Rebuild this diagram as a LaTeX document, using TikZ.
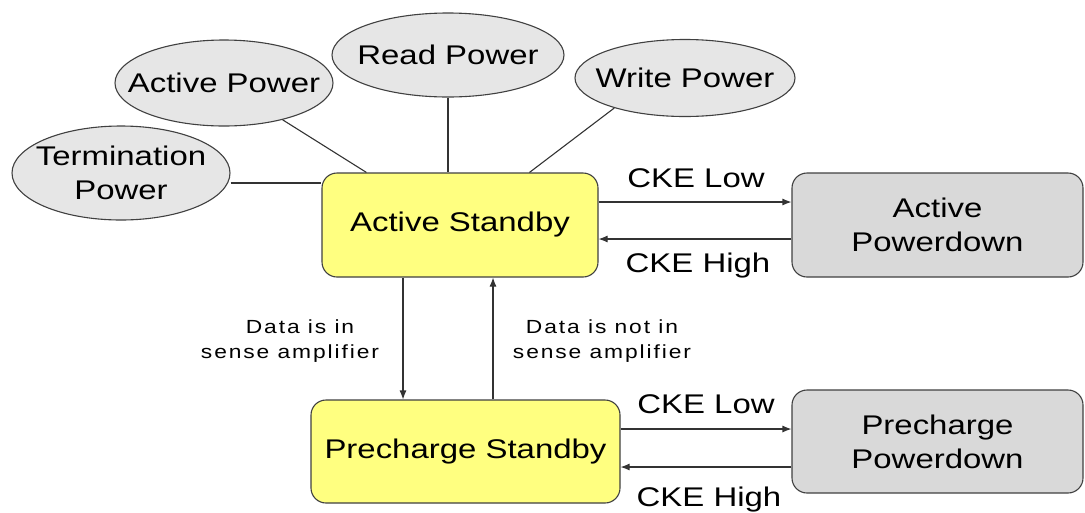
\documentclass[tikz,border=0pt]{standalone}
\usepackage{fontspec}
\setmainfont{Liberation Sans}[FakeStretch=1.22]
\newfontfamily\notefont{Liberation Sans}[FakeStretch=1.2, LetterSpace=10]
\usetikzlibrary{shapes.geometric,arrows.meta,calc}

\definecolor{outline}{HTML}{404040}
\definecolor{powerfill}{HTML}{E6E6E6}
\definecolor{standbyfill}{HTML}{FFFF80}
\definecolor{downfill}{HTML}{D9D9D9}

\tikzset{
  every node/.style={font=\fontsize{27}{34}\selectfont, align=center, inner sep=0pt},
  powerblob/.style={ellipse, draw=outline, line width=1.1pt, fill=powerfill},
  statebox/.style={rectangle, rounded corners=15pt, draw=outline, line width=1.1pt},
  standby/.style={statebox, fill=standbyfill},
  downstate/.style={statebox, fill=downfill},
  link/.style={draw=black!80, line width=1.1pt},
  trans/.style={link, -{Latex[length=9pt,width=7pt]}},
  note/.style={font=\notefont\fontsize{19}{25}\selectfont},
}

\begin{document}
\begin{tikzpicture}[x=1pt, y=-1pt]
  \useasboundingbox (0,0) rectangle (1085,512);

  % power contributions (ellipse outline sized independently of its caption)
  \node[powerblob, minimum width=218, minimum height=94,
        label={center:Termination\\Power}] (term) at (121,173) {};
  \node[powerblob, minimum width=218, minimum height=86,
        label={center:Active Power}] (actp) at (224,83) {};
  \node[powerblob, minimum width=232, minimum height=84,
        label={center:Read Power}] (readp) at (448,55) {};
  \node[powerblob, minimum width=220, minimum height=77,
        label={center:Write Power}] (writep) at (685,78) {};

  % states
  \node[standby, minimum width=276, minimum height=104] (as) at (460,225) {\raisebox{-3pt}{Active Standby}};
  \node[downstate, minimum width=291, minimum height=104] (apd) at (937.5,225) {Active\\Powerdown};
  \node[standby, minimum width=309, minimum height=103] (ps) at (465.5,451.5) {Precharge Standby};
  \node[downstate, minimum width=291, minimum height=103] (ppd) at (937.5,441.5) {Precharge\\Powerdown};

  % power links into the active standby state
  \draw[link] ([yshift=-10pt]term.east) -- ([yshift=-10pt]term.east -| as.west);
  \draw[link] (actp) -- ($(as.north west)+(45,0)$);
  \draw[link] (readp.south) -- (readp.south |- as.north);
  \draw[link] (writep.203) -- ($(as.north west)+(208,0)$);

  % active standby <-> active powerdown
  \draw[trans] ([yshift=23pt]as.east) -- ([yshift=23pt]as.east -| apd.west);
  \draw[trans] ([yshift=-14pt]apd.west) -- ([yshift=-14pt]apd.west -| as.east);
  \node[anchor=base] (lowa) at (696,187) {CKE Low};
  \node[anchor=base] (higha) at (698,272) {CKE High};

  % precharge standby <-> precharge powerdown
  \draw[trans] ([yshift=22.5pt]ps.east) -- ([yshift=22.5pt]ps.east -| ppd.west);
  \draw[trans] ([yshift=-25.5pt]ppd.west) -- ([yshift=-25.5pt]ppd.west -| ps.east);
  \node[anchor=base] (lowp) at (706,413) {CKE Low};
  \node[anchor=base] (highp) at (709,506) {CKE High};

  % active standby <-> precharge standby
  \draw[trans] ([xshift=-57pt]as.south) -- ([xshift=-57pt]as.south |- ps.north);
  \draw[trans] ([xshift=27.5pt]ps.north) -- ([xshift=27.5pt]ps.north |- as.south);
  \node[note, anchor=base] (inamp) at (290,358) {\hspace*{20pt}Data is in\\sense amplifier};
  \node[note, anchor=base] (outamp) at (602,358) {Data is not in\\sense amplifier};
\end{tikzpicture}
\end{document}
